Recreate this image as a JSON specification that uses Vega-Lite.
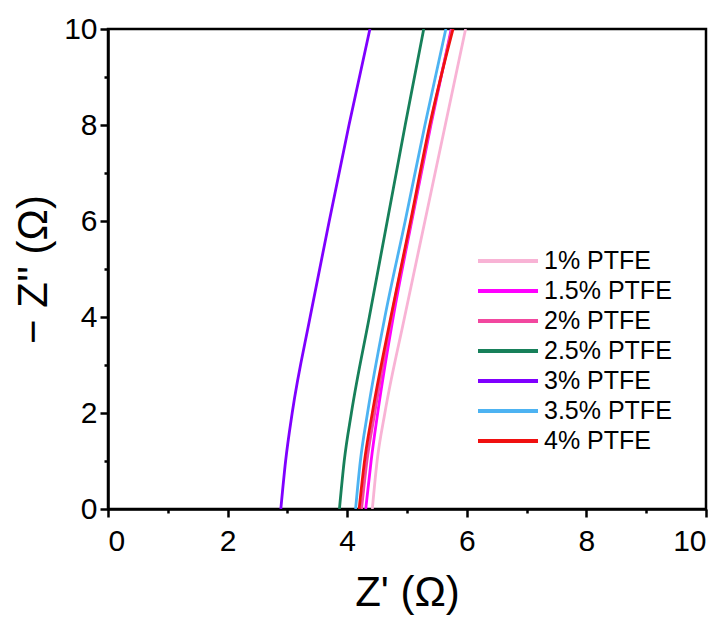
{
  "$schema": "https://vega.github.io/schema/vega-lite/v6.json",
  "width": 598,
  "height": 480,
  "autosize": {"type": "none"},
  "padding": {"left": 108, "top": 29, "right": 22, "bottom": 110},
  "config": {
    "font": "Liberation Sans",
    "view": {"stroke": "black", "strokeWidth": 2.5},
    "axis": {
      "domainColor": "black",
      "domainWidth": 2.5,
      "tickColor": "black",
      "tickWidth": 2.5,
      "grid": false,
      "labelFontSize": 30,
      "labelColor": "black",
      "titleFontSize": 42,
      "titleFontWeight": "normal",
      "titleColor": "black"
    }
  },
  "data": {
    "values": [
      {"s": "1% PTFE", "zi": 0, "zr": 4.42},
      {"s": "1% PTFE", "zi": 1, "zr": 4.50},
      {"s": "1% PTFE", "zi": 2, "zr": 4.63},
      {"s": "1% PTFE", "zi": 4, "zr": 4.96},
      {"s": "1% PTFE", "zi": 6, "zr": 5.30},
      {"s": "1% PTFE", "zi": 8, "zr": 5.64},
      {"s": "1% PTFE", "zi": 10, "zr": 5.98},
      {"s": "1.5% PTFE", "zi": 0, "zr": 4.31},
      {"s": "1.5% PTFE", "zi": 1, "zr": 4.40},
      {"s": "1.5% PTFE", "zi": 2, "zr": 4.51},
      {"s": "1.5% PTFE", "zi": 4, "zr": 4.77},
      {"s": "1.5% PTFE", "zi": 6, "zr": 5.08},
      {"s": "1.5% PTFE", "zi": 8, "zr": 5.40},
      {"s": "1.5% PTFE", "zi": 10, "zr": 5.74},
      {"s": "2% PTFE", "zi": 0, "zr": 4.24},
      {"s": "2% PTFE", "zi": 1, "zr": 4.33},
      {"s": "2% PTFE", "zi": 2, "zr": 4.46},
      {"s": "2% PTFE", "zi": 4, "zr": 4.74},
      {"s": "2% PTFE", "zi": 6, "zr": 5.07},
      {"s": "2% PTFE", "zi": 8, "zr": 5.39},
      {"s": "2% PTFE", "zi": 10, "zr": 5.75},
      {"s": "2.5% PTFE", "zi": 0, "zr": 3.87},
      {"s": "2.5% PTFE", "zi": 1, "zr": 3.95},
      {"s": "2.5% PTFE", "zi": 2, "zr": 4.07},
      {"s": "2.5% PTFE", "zi": 4, "zr": 4.37},
      {"s": "2.5% PTFE", "zi": 6, "zr": 4.67},
      {"s": "2.5% PTFE", "zi": 8, "zr": 4.97},
      {"s": "2.5% PTFE", "zi": 10, "zr": 5.28},
      {"s": "3% PTFE", "zi": 0, "zr": 2.89},
      {"s": "3% PTFE", "zi": 1, "zr": 2.97},
      {"s": "3% PTFE", "zi": 2, "zr": 3.08},
      {"s": "3% PTFE", "zi": 4, "zr": 3.38},
      {"s": "3% PTFE", "zi": 6, "zr": 3.70},
      {"s": "3% PTFE", "zi": 8, "zr": 4.03},
      {"s": "3% PTFE", "zi": 10, "zr": 4.38},
      {"s": "3.5% PTFE", "zi": 0, "zr": 4.14},
      {"s": "3.5% PTFE", "zi": 1, "zr": 4.22},
      {"s": "3.5% PTFE", "zi": 2, "zr": 4.34},
      {"s": "3.5% PTFE", "zi": 4, "zr": 4.63},
      {"s": "3.5% PTFE", "zi": 6, "zr": 4.97},
      {"s": "3.5% PTFE", "zi": 8, "zr": 5.30},
      {"s": "3.5% PTFE", "zi": 10, "zr": 5.65},
      {"s": "4% PTFE", "zi": 0, "zr": 4.20},
      {"s": "4% PTFE", "zi": 1, "zr": 4.29},
      {"s": "4% PTFE", "zi": 2, "zr": 4.42},
      {"s": "4% PTFE", "zi": 4, "zr": 4.73},
      {"s": "4% PTFE", "zi": 6, "zr": 5.06},
      {"s": "4% PTFE", "zi": 8, "zr": 5.38},
      {"s": "4% PTFE", "zi": 10, "zr": 5.77}
    ]
  },
  "mark": {"type": "line", "strokeWidth": 2.8, "interpolate": "monotone", "clip": true},
  "encoding": {
    "x": {
      "field": "zr",
      "type": "quantitative",
      "scale": {"domain": [0, 10], "nice": false, "zero": false},
      "axis": {
        "title": "Z' (Ω)",
        "values": [0, 1, 2, 3, 4, 5, 6, 7, 8, 9, 10],
        "labelExpr": "datum.value % 2 ? '' : datum.label",
        "tickSize": {"condition": {"test": "datum.value % 2", "value": 4}, "value": 8},
        "labelPadding": 9,
        "titlePadding": 16
      }
    },
    "y": {
      "field": "zi",
      "type": "quantitative",
      "scale": {"domain": [0, 10], "nice": false, "zero": false},
      "axis": {
        "title": "− Z'' (Ω)",
        "values": [0, 1, 2, 3, 4, 5, 6, 7, 8, 9, 10],
        "labelExpr": "datum.value % 2 ? '' : datum.label",
        "tickSize": {"condition": {"test": "datum.value % 2", "value": 4}, "value": 8},
        "labelPadding": 3,
        "titlePadding": 8
      }
    },
    "color": {
      "field": "s",
      "type": "nominal",
      "scale": {
        "domain": ["1% PTFE", "1.5% PTFE", "2% PTFE", "2.5% PTFE", "3% PTFE", "3.5% PTFE", "4% PTFE"],
        "range": ["#F8B3D5", "#FF00FF", "#F2479F", "#17805A", "#7F00FF", "#4DB3F2", "#F01010"]
      },
      "legend": {
        "title": null,
        "orient": "none",
        "legendX": 368,
        "legendY": 217,
        "padding": 0,
        "symbolType": "stroke",
        "symbolSize": 3600,
        "symbolStrokeWidth": 4,
        "labelFontSize": 25,
        "labelColor": "black",
        "labelOffset": 4,
        "clipHeight": 30,
        "rowPadding": 0
      }
    },
    "order": {"field": "zi", "type": "quantitative"}
  }
}
